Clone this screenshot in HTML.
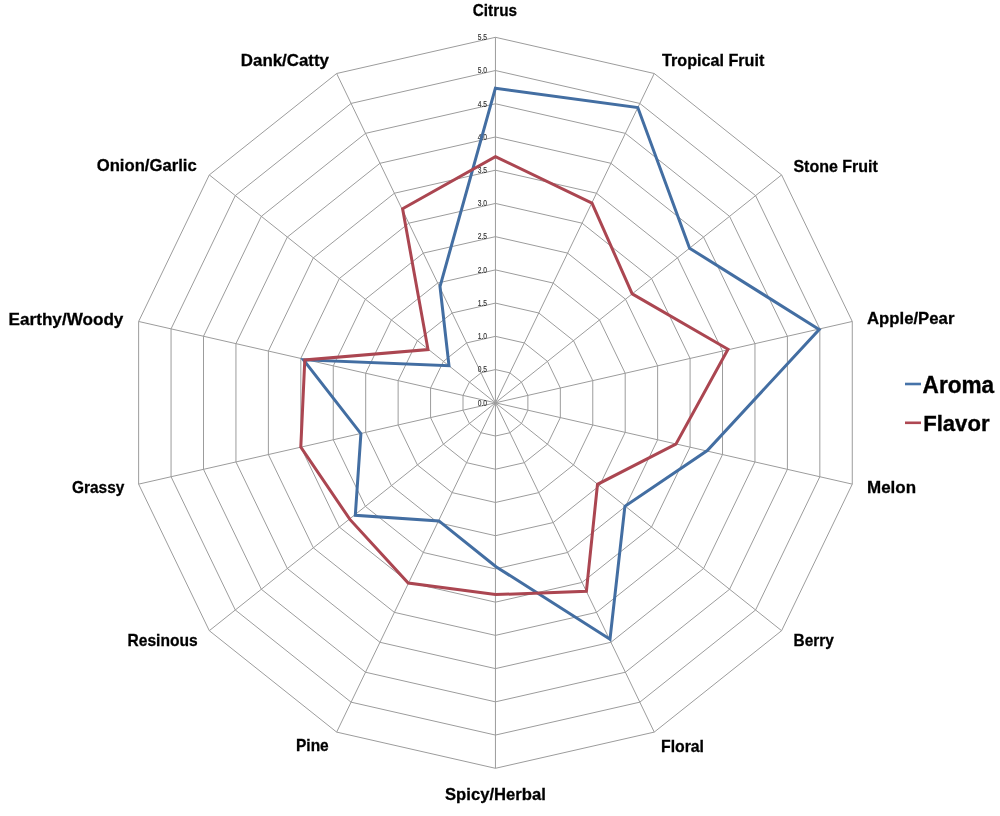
<!DOCTYPE html>
<html><head><meta charset="utf-8"><style>
html,body{margin:0;padding:0;background:#fff;width:1000px;height:816px;overflow:hidden}
svg{display:block;will-change:transform}
.g polygon,.g line{fill:none;stroke:#9c9c9c;stroke-width:1}
.lab text{font-family:"Liberation Sans",sans-serif;font-weight:bold;font-size:17px;fill:#000;stroke:#000;stroke-width:0.3px}
.tk text{font-family:"Liberation Sans",sans-serif;font-size:8.6px;fill:#333;stroke:#333;stroke-width:0.15px}
.leg{font-family:"Liberation Sans",sans-serif;font-weight:bold;font-size:23px;fill:#000;stroke:#000;stroke-width:0.35px}
</style></head><body>
<svg width="1000" height="816" viewBox="0 0 1000 816">
<g class="g">
<polygon points="495.45,369.57 509.89,372.86 521.46,382.08 527.89,395.41 527.89,410.19 521.46,423.52 509.89,432.74 495.45,436.03 481.01,432.74 469.44,423.52 463.01,410.19 463.01,395.41 469.44,382.08 481.01,372.86"/>
<polygon points="495.45,336.35 524.32,342.93 547.48,361.37 560.33,388.01 560.33,417.59 547.48,444.23 524.32,462.67 495.45,469.25 466.58,462.67 443.42,444.23 430.57,417.59 430.57,388.01 443.42,361.37 466.58,342.93"/>
<polygon points="495.45,303.12 538.76,312.99 573.49,340.65 592.77,380.62 592.77,424.98 573.49,464.95 538.76,492.61 495.45,502.48 452.14,492.61 417.41,464.95 398.13,424.98 398.13,380.62 417.41,340.65 452.14,312.99"/>
<polygon points="495.45,269.89 553.20,283.05 599.50,319.93 625.20,373.22 625.20,432.38 599.50,485.67 553.20,522.55 495.45,535.71 437.70,522.55 391.40,485.67 365.70,432.38 365.70,373.22 391.40,319.93 437.70,283.05"/>
<polygon points="495.45,236.66 567.63,253.12 625.52,299.22 657.64,365.83 657.64,439.77 625.52,506.38 567.63,552.48 495.45,568.94 423.27,552.48 365.38,506.38 333.26,439.77 333.26,365.83 365.38,299.22 423.27,253.12"/>
<polygon points="495.45,203.44 582.07,223.18 651.53,278.50 690.08,358.44 690.08,447.16 651.53,527.10 582.07,582.42 495.45,602.16 408.83,582.42 339.37,527.10 300.82,447.16 300.82,358.44 339.37,278.50 408.83,223.18"/>
<polygon points="495.45,170.21 596.51,193.24 677.55,257.78 722.52,351.04 722.52,454.56 677.55,547.82 596.51,612.36 495.45,635.39 394.39,612.36 313.35,547.82 268.38,454.56 268.38,351.04 313.35,257.78 394.39,193.24"/>
<polygon points="495.45,136.98 610.94,163.31 703.56,237.07 754.96,343.65 754.96,461.95 703.56,568.53 610.94,642.29 495.45,668.62 379.96,642.29 287.34,568.53 235.94,461.95 235.94,343.65 287.34,237.07 379.96,163.31"/>
<polygon points="495.45,103.75 625.38,133.37 729.57,216.35 787.40,336.26 787.40,469.34 729.57,589.25 625.38,672.23 495.45,701.85 365.52,672.23 261.33,589.25 203.50,469.34 203.50,336.26 261.33,216.35 365.52,133.37"/>
<polygon points="495.45,70.53 639.81,103.43 755.59,195.63 819.84,328.86 819.84,476.74 755.59,609.97 639.81,702.17 495.45,735.07 351.09,702.17 235.31,609.97 171.06,476.74 171.06,328.86 235.31,195.63 351.09,103.43"/>
<polygon points="495.45,37.30 654.25,73.50 781.60,174.91 852.27,321.47 852.27,484.13 781.60,630.69 654.25,732.10 495.45,768.30 336.65,732.10 209.30,630.69 138.63,484.13 138.63,321.47 209.30,174.91 336.65,73.50"/>
<line x1="495.45" y1="402.8" x2="495.45" y2="37.30"/>
<line x1="495.45" y1="402.8" x2="654.25" y2="73.50"/>
<line x1="495.45" y1="402.8" x2="781.60" y2="174.91"/>
<line x1="495.45" y1="402.8" x2="852.27" y2="321.47"/>
<line x1="495.45" y1="402.8" x2="852.27" y2="484.13"/>
<line x1="495.45" y1="402.8" x2="781.60" y2="630.69"/>
<line x1="495.45" y1="402.8" x2="654.25" y2="732.10"/>
<line x1="495.45" y1="402.8" x2="495.45" y2="768.30"/>
<line x1="495.45" y1="402.8" x2="336.65" y2="732.10"/>
<line x1="495.45" y1="402.8" x2="209.30" y2="630.69"/>
<line x1="495.45" y1="402.8" x2="138.63" y2="484.13"/>
<line x1="495.45" y1="402.8" x2="138.63" y2="321.47"/>
<line x1="495.45" y1="402.8" x2="209.30" y2="174.91"/>
<line x1="495.45" y1="402.8" x2="336.65" y2="73.50"/>
</g>
<g class="tk">
<text x="477.8" y="405.5" textLength="9.3" lengthAdjust="spacingAndGlyphs">0.0</text>
<text x="477.8" y="372.3" textLength="9.3" lengthAdjust="spacingAndGlyphs">0.5</text>
<text x="477.8" y="339.0" textLength="9.3" lengthAdjust="spacingAndGlyphs">1.0</text>
<text x="477.8" y="305.8" textLength="9.3" lengthAdjust="spacingAndGlyphs">1.5</text>
<text x="477.8" y="272.6" textLength="9.3" lengthAdjust="spacingAndGlyphs">2.0</text>
<text x="477.8" y="239.4" textLength="9.3" lengthAdjust="spacingAndGlyphs">2.5</text>
<text x="477.8" y="206.1" textLength="9.3" lengthAdjust="spacingAndGlyphs">3.0</text>
<text x="477.8" y="172.9" textLength="9.3" lengthAdjust="spacingAndGlyphs">3.5</text>
<text x="477.8" y="139.7" textLength="9.3" lengthAdjust="spacingAndGlyphs">4.0</text>
<text x="477.8" y="106.5" textLength="9.3" lengthAdjust="spacingAndGlyphs">4.5</text>
<text x="477.8" y="73.2" textLength="9.3" lengthAdjust="spacingAndGlyphs">5.0</text>
<text x="477.8" y="40.0" textLength="9.3" lengthAdjust="spacingAndGlyphs">5.5</text>
</g>
<polygon points="495.4,88.2 637.8,107.5 689.6,248.2 819.2,329.5 707.3,450.6 624.9,506.3 610,639.2 496,566.7 438.9,520.9 355.3,515.3 360.9,433.6 303.5,359.8 449,365.8 440,286.5" fill="none" stroke="#436EA2" stroke-width="3.0" stroke-linejoin="miter"/>
<polygon points="495.4,156.6 592,203.1 632.2,293.9 728.0,349.2 675.9,444.1 597.5,484.3 586.4,591.2 495.5,594.6 408.2,583 349.9,519.4 300.8,447.1 304.8,359.9 428.0,349.6 402.6,208.8" fill="none" stroke="#AB4651" stroke-width="3.0" stroke-linejoin="miter"/>
<g class="lab">
<text x="472.8" y="15.9" textLength="44.2" lengthAdjust="spacingAndGlyphs">Citrus</text>
<text x="662.1" y="65.9" textLength="102.2" lengthAdjust="spacingAndGlyphs">Tropical Fruit</text>
<text x="793.4" y="171.9" textLength="84.5" lengthAdjust="spacingAndGlyphs">Stone Fruit</text>
<text x="867.0" y="323.6" textLength="87.4" lengthAdjust="spacingAndGlyphs">Apple/Pear</text>
<text x="867.0" y="493.1" textLength="49.0" lengthAdjust="spacingAndGlyphs">Melon</text>
<text x="793.5" y="645.9" textLength="40.3" lengthAdjust="spacingAndGlyphs">Berry</text>
<text x="661.0" y="751.6" textLength="43.0" lengthAdjust="spacingAndGlyphs">Floral</text>
<text x="445.0" y="800.4" textLength="100.8" lengthAdjust="spacingAndGlyphs">Spicy/Herbal</text>
<text x="296.0" y="751.3" textLength="32.7" lengthAdjust="spacingAndGlyphs">Pine</text>
<text x="127.5" y="645.9" textLength="70.2" lengthAdjust="spacingAndGlyphs">Resinous</text>
<text x="72.0" y="493.0" textLength="52.4" lengthAdjust="spacingAndGlyphs">Grassy</text>
<text x="8.6" y="324.8" textLength="114.8" lengthAdjust="spacingAndGlyphs">Earthy/Woody</text>
<text x="96.7" y="170.8" textLength="100.0" lengthAdjust="spacingAndGlyphs">Onion/Garlic</text>
<text x="240.8" y="65.9" textLength="88.2" lengthAdjust="spacingAndGlyphs">Dank/Catty</text>
</g>
<line x1="905" y1="384" x2="921" y2="384" stroke="#4673A9" stroke-width="2.6"/>
<line x1="905" y1="422.8" x2="921" y2="422.8" stroke="#AE4752" stroke-width="2.6"/>
<text class="leg" x="922.6" y="392.7" textLength="71.6" lengthAdjust="spacingAndGlyphs">Aroma</text>
<text class="leg" style="font-size:22px" x="923.2" y="431.3" textLength="66.3" lengthAdjust="spacingAndGlyphs">Flavor</text>
</svg>
</body></html>
